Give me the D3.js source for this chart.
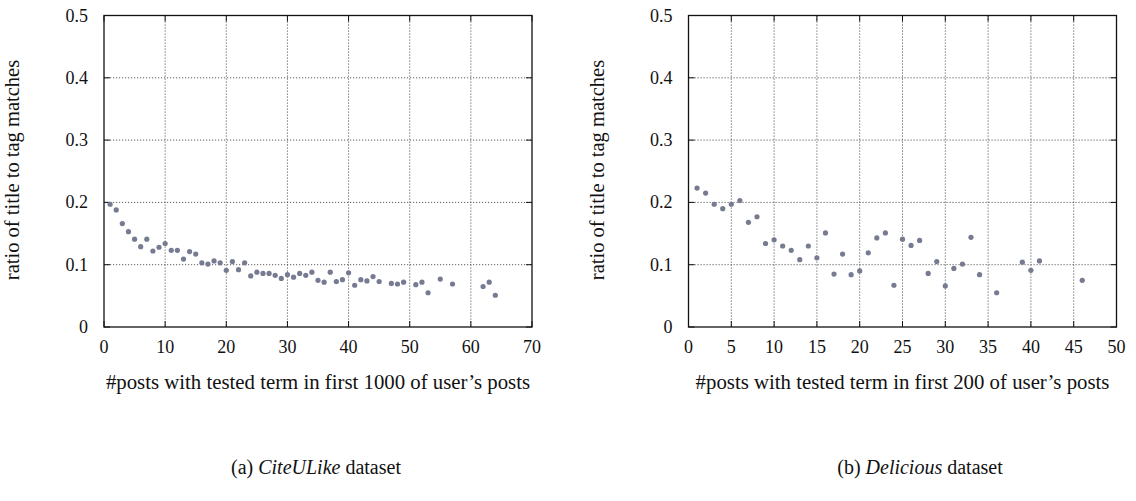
<!DOCTYPE html>
<html>
<head>
<meta charset="utf-8">
<script src="https://cdn.jsdelivr.net/npm/d3@7"></script>
<style>
  body { margin: 0; background: #fff; }
  .grid line { stroke: #333; stroke-width: 0.8; stroke-dasharray: 1.2,1.8; }
</style>
</head>
<body>
<svg id="chart" width="1136" height="501" font-family="'Liberation Serif', 'DejaVu Serif', serif"></svg>
<script>
// (a) CiteULike
const citeX = [1,2,3,4,5,6,7,8,9,10,11,12,13,14,15,16,17,18,19,20,21,22,23,24,25,26,27,28,29,30,
  31,32,33,34,35,36,37,38,39,40,41,42,43,44,45,47,48,49,51,52,53,55,57,62,63,64];
const citeY = [0.197,0.188,0.166,0.153,0.141,0.129,0.141,0.122,0.128,0.134,0.123,0.123,0.109,0.121,0.117,
  0.103,0.101,0.106,0.103,0.091,0.105,0.092,0.103,0.082,0.088,0.086,0.086,0.083,0.078,0.084,
  0.080,0.086,0.083,0.088,0.075,0.072,0.088,0.073,0.076,0.087,0.067,0.076,0.074,0.081,0.073,
  0.070,0.069,0.072,0.068,0.072,0.055,0.077,0.069,0.065,0.072,0.051];

// (b) Delicious
const delX = [1,2,3,4,5,6,7,8,9,10,11,12,13,14,15,16,17,18,19,20,21,22,23,24,25,26,27,28,29,30,
  31,32,33,34,36,39,40,41,46];
const delY = [0.223,0.215,0.197,0.190,0.197,0.203,0.168,0.177,0.134,0.140,0.130,0.123,0.108,0.130,0.111,
  0.151,0.085,0.117,0.084,0.090,0.119,0.143,0.151,0.067,0.141,0.131,0.139,0.086,0.105,0.066,
  0.094,0.101,0.144,0.084,0.055,0.104,0.091,0.106,0.075];

const yTicks = [0, 0.1, 0.2, 0.3, 0.4, 0.5];
const yTickLabels = ["0", "0.1", "0.2", "0.3", "0.4", "0.5"];
const citeXTicks = [0, 10, 20, 30, 40, 50, 60, 70];
const delXTicks = [0, 5, 10, 15, 20, 25, 30, 35, 40, 45, 50];

const yTitle = "ratio of title to tag matches";

const svg = d3.select("#chart");

function drawPanel(opts) {
  const left = opts.left, right = opts.right, top = 15.5, bottom = 327;
  const g = svg.append("g");

  const x = d3.scaleLinear().domain([0, opts.xMax]).range([left, right]);
  const y = d3.scaleLinear().domain([0, 0.5]).range([bottom, top]);

  // grid
  const grid = g.append("g").attr("class", "grid");
  grid.selectAll("line.v")
    .data(opts.xTicks.slice(1, -1))
    .enter().append("line")
    .attr("x1", d => x(d)).attr("x2", d => x(d))
    .attr("y1", top).attr("y2", bottom);
  grid.selectAll("line.h")
    .data(yTicks.slice(1, -1))
    .enter().append("line")
    .attr("x1", left).attr("x2", right)
    .attr("y1", d => y(d)).attr("y2", d => y(d));

  // inward ticks on all sides
  const tl = 6;
  const ticks = g.append("g").attr("stroke", "#111").attr("stroke-width", 1);
  opts.xTicks.forEach(t => {
    ticks.append("line").attr("x1", x(t)).attr("x2", x(t)).attr("y1", bottom).attr("y2", bottom - tl);
    ticks.append("line").attr("x1", x(t)).attr("x2", x(t)).attr("y1", top).attr("y2", top + tl);
  });
  yTicks.forEach(t => {
    ticks.append("line").attr("x1", left).attr("x2", left + tl).attr("y1", y(t)).attr("y2", y(t));
    ticks.append("line").attr("x1", right).attr("x2", right - tl).attr("y1", y(t)).attr("y2", y(t));
  });

  // frame
  g.append("rect")
    .attr("x", left).attr("y", top)
    .attr("width", right - left).attr("height", bottom - top)
    .attr("fill", "none").attr("stroke", "#111").attr("stroke-width", 1.3);

  // tick labels
  g.selectAll("text.xt")
    .data(opts.xTicks)
    .enter().append("text")
    .attr("x", d => x(d)).attr("y", 353)
    .attr("text-anchor", "middle")
    .attr("fill", "#111")
    .style("font-size", "18px")
    .text(d => d);
  g.selectAll("text.yt")
    .data(yTicks)
    .enter().append("text")
    .attr("x", left - 16).attr("y", d => y(d) + 6)
    .attr("text-anchor", "end")
    .attr("fill", "#111")
    .style("font-size", "18px")
    .text((d, i) => yTickLabels[i]);

  // axis titles
  g.append("text")
    .attr("x", (left + right) / 2).attr("y", 389)
    .attr("text-anchor", "middle")
    .attr("fill", "#111")
    .style("font-size", "20.8px")
    .text(opts.xTitle);
  g.append("text")
    .attr("transform", "translate(" + (left - 85) + ",170) rotate(-90)")
    .attr("text-anchor", "middle")
    .attr("fill", "#111")
    .style("font-size", "20.5px")
    .text(yTitle);

  // points
  g.selectAll("circle")
    .data(opts.xs.map((v, i) => [v, opts.ys[i]]))
    .enter().append("circle")
    .attr("cx", d => x(d[0])).attr("cy", d => y(d[1]))
    .attr("r", 2.6)
    .attr("fill", "#767b92");

  // caption
  const cap = svg.append("text")
    .attr("x", opts.capX).attr("y", 474)
    .attr("text-anchor", "middle")
    .attr("fill", "#111")
    .style("font-size", "20px");
  cap.append("tspan").text(opts.capPre + " ");
  cap.append("tspan").style("font-style", "italic").text(opts.capName);
  cap.append("tspan").text(" dataset");
}

drawPanel({
  left: 104, right: 532, xMax: 70, xTicks: citeXTicks, xs: citeX, ys: citeY,
  xTitle: "#posts with tested term in first 1000 of user\u2019s posts",
  capX: 316, capPre: "(a)", capName: "CiteULike"
});

drawPanel({
  left: 688.5, right: 1116.5, xMax: 50, xTicks: delXTicks, xs: delX, ys: delY,
  xTitle: "#posts with tested term in first 200 of user\u2019s posts",
  capX: 920, capPre: "(b)", capName: "Delicious"
});
</script>
</body>
</html>
